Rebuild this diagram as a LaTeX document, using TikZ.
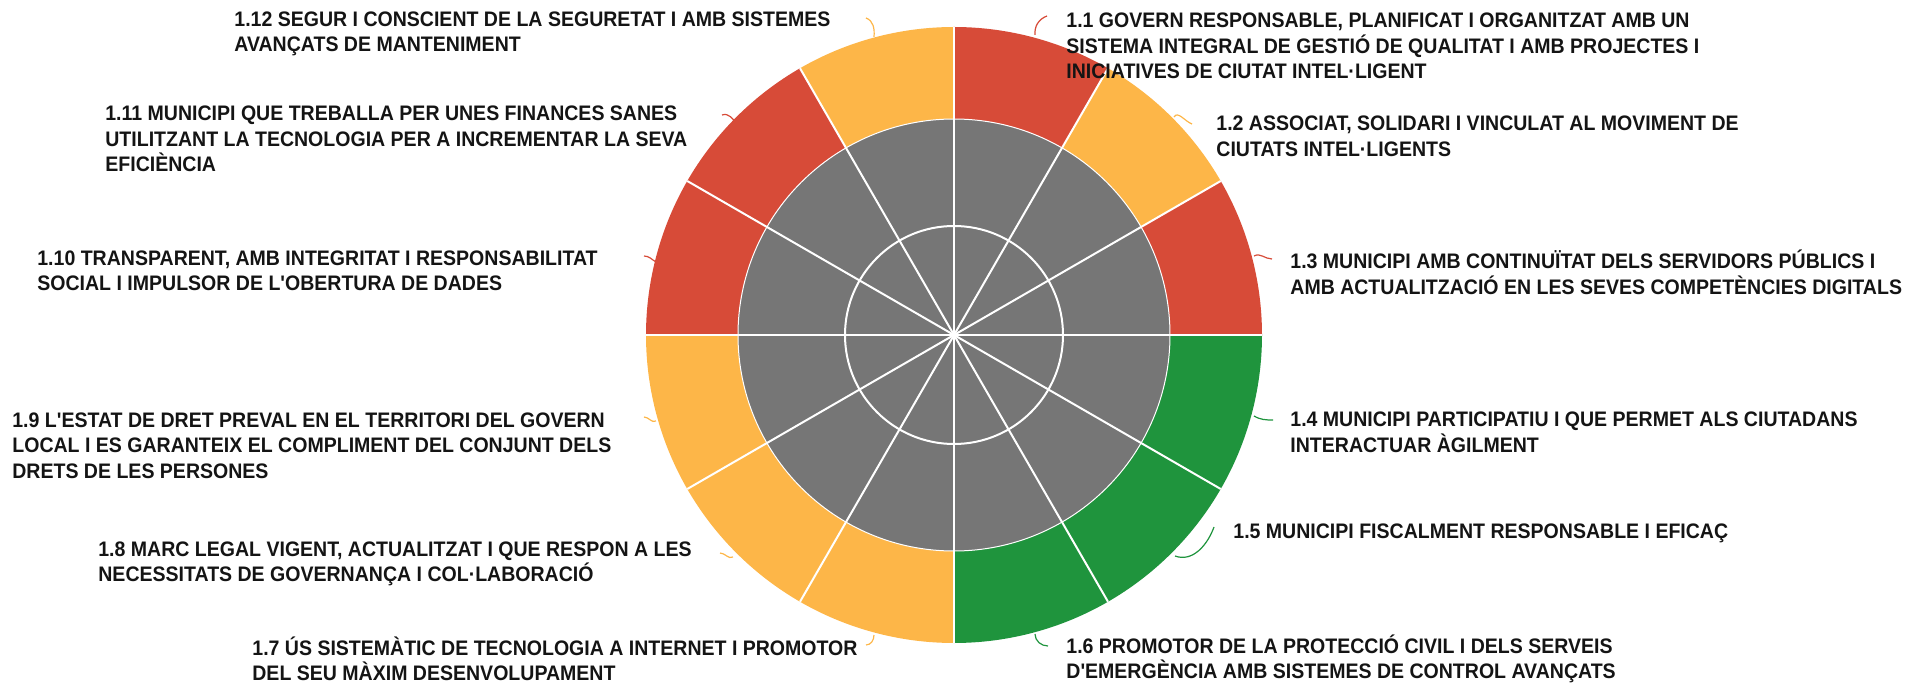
\documentclass[tikz,border=0pt]{standalone}
\usepackage{fontspec}
\setmainfont{Liberation Sans}[FakeStretch=0.93,Ligatures=TeXOff]
\definecolor{myred}{RGB}{215,75,56}
\definecolor{myorange}{RGB}{253,182,72}
\definecolor{mygreen}{RGB}{31,148,61}
\definecolor{mygray}{RGB}{118,118,118}
\definecolor{mytext}{RGB}{20,20,20}

\begin{document}
\begin{tikzpicture}[x=0.5pt,y=0.5pt,
	lbl/.style={
		anchor=west,
		align=left,
		inner sep=0pt,
		text=mytext,
		font={\fontsize{10.5}{12.75}\selectfont\bfseries}},
	spoke/.style={draw=white,line width=1pt},
	leader/.style={line width=0.6pt},
	]
	\useasboundingbox (-954,-349) rectangle (976,335);
	% ring of twelve segments
	\foreach \a/\c in {90/myred,60/myorange,30/myred,0/mygreen,-30/mygreen,-60/mygreen,
		-90/myorange,-120/myorange,-150/myorange,180/myred,150/myred,120/myorange}
		\fill[\c] (0,0) -- (\a:308) arc[start angle=\a,delta angle=-30,radius=308] -- cycle;
	\fill[mygray] (0,0) circle[radius=216];
	\draw[white,line width=0.5pt] (0,0) circle[radius=216];
	\draw[white,line width=1pt] (0,0) circle[radius=109];
	\foreach \a in {0,30,...,330}
		\draw[spoke] (0,0) -- (\a:308);
	
	% labels
	\node[lbl] (L1) at (112,289) {1.1 GOVERN RESPONSABLE, PLANIFICAT I ORGANITZAT AMB UN\\SISTEMA INTEGRAL DE GESTIÓ DE QUALITAT I AMB PROJECTES I\\INICIATIVES DE CIUTAT INTEL·LIGENT};
	\node[lbl] (L2) at (262,198.5) {1.2 ASSOCIAT, SOLIDARI I VINCULAT AL MOVIMENT DE\\CIUTATS INTEL·LIGENTS};
	\node[lbl] (L3) at (336,62.5) {1.3 MUNICIPI AMB CONTINUÏTAT DELS SERVIDORS PÚBLICS I\\AMB ACTUALITZACIÓ EN LES SEVES COMPETÈNCIES DIGITALS};
	\node[lbl] (L4) at (336,-97.5) {1.4 MUNICIPI PARTICIPATIU I QUE PERMET ALS CIUTADANS\\INTERACTUAR ÀGILMENT};
	\node[lbl] (L5) at (279,-198) {1.5 MUNICIPI FISCALMENT RESPONSABLE I EFICAÇ};
	\node[lbl] (L6) at (112,-324) {1.6 PROMOTOR DE LA PROTECCIÓ CIVIL I DELS SERVEIS\\D'EMERGÈNCIA AMB SISTEMES DE CONTROL AVANÇATS};
	\node[lbl] (L7) at (-702,-324) {1.7 ÚS SISTEMÀTIC DE TECNOLOGIA A INTERNET I PROMOTOR\\DEL SEU MÀXIM DESENVOLUPAMENT};
	\node[lbl] (L8) at (-856,-229) {1.8 MARC LEGAL VIGENT, ACTUALITZAT I QUE RESPON A LES\\NECESSITATS DE GOVERNANÇA I COL·LABORACIÓ};
	\node[lbl] (L9) at (-942,-110.5) {1.9 L'ESTAT DE DRET PREVAL EN EL TERRITORI DEL GOVERN\\LOCAL I ES GARANTEIX EL COMPLIMENT DEL CONJUNT DELS\\DRETS DE LES PERSONES};
	\node[lbl] (L10) at (-917,64) {1.10 TRANSPARENT, AMB INTEGRITAT I RESPONSABILITAT\\SOCIAL I IMPULSOR DE L'OBERTURA DE DADES};
	\node[lbl] (L11) at (-849,196) {1.11 MUNICIPI QUE TREBALLA PER UNES FINANCES SANES\\UTILITZANT LA TECNOLOGIA PER A INCREMENTAR LA SEVA\\EFICIÈNCIA};
	\node[lbl] (L12) at (-720,301) {1.12 SEGUR I CONSCIENT DE LA SEGURETAT I AMB SISTEMES\\AVANÇATS DE MANTENIMENT};
	
	% leaders
	\coordinate (r1) at (81,300);    \coordinate (t1) at (93,319);
	\coordinate (r2) at (220,218);   \coordinate (t2) at (238,211);
	\coordinate (r3) at (300,79);    \coordinate (t3) at (318,76);
	\coordinate (r4) at (300,-81);   \coordinate (t4) at (319,-85);
	\coordinate (r5) at (221,-221);  \coordinate (t5) at (260,-192);
	\coordinate (r6) at (81,-299);   \coordinate (t6) at (94,-311);
	\coordinate (r7) at (-80,-300);  \coordinate (t7) at (-88,-310);
	\coordinate (r8) at (-221,-222); \coordinate (t8) at (-234,-218);
	\coordinate (r9) at (-298,-86);  \coordinate (t9) at (-310,-82);
	\coordinate (r10) at (-298,73);  \coordinate (t10) at (-310,79);
	\coordinate (r11) at (-217,210); \coordinate (t11) at (-232,220);
	\coordinate (r12) at (-80,298);  \coordinate (t12) at (-88,317);
	\draw[leader,myred] (r1) to[out=95,in=200] (t1);
	\draw[leader,myorange] (r2) to[out=60,in=160] (t2);
	\draw[leader,myred] (r3) to[out=30,in=180] (t3);
	\draw[leader,mygreen] (r4) to[out=-30,in=180] (t4);
	\draw[leader,mygreen] (r5) to[out=-20,in=-110] (t5);
	\draw[leader,mygreen] (r6) to[out=-90,in=180] (t6);
	\draw[leader,myorange] (r7) to[out=-90,in=0] (t7);
	\draw[leader,myorange] (r8) to[out=-150,in=0] (t8);
	\draw[leader,myorange] (r9) to[out=-150,in=0] (t9);
	\draw[leader,myred] (r10) to[out=150,in=0] (t10);
	\draw[leader,myred] (r11) to[out=120,in=20] (t11);
	\draw[leader,myorange] (r12) to[out=85,in=-20] (t12);
\end{tikzpicture}
\end{document}
